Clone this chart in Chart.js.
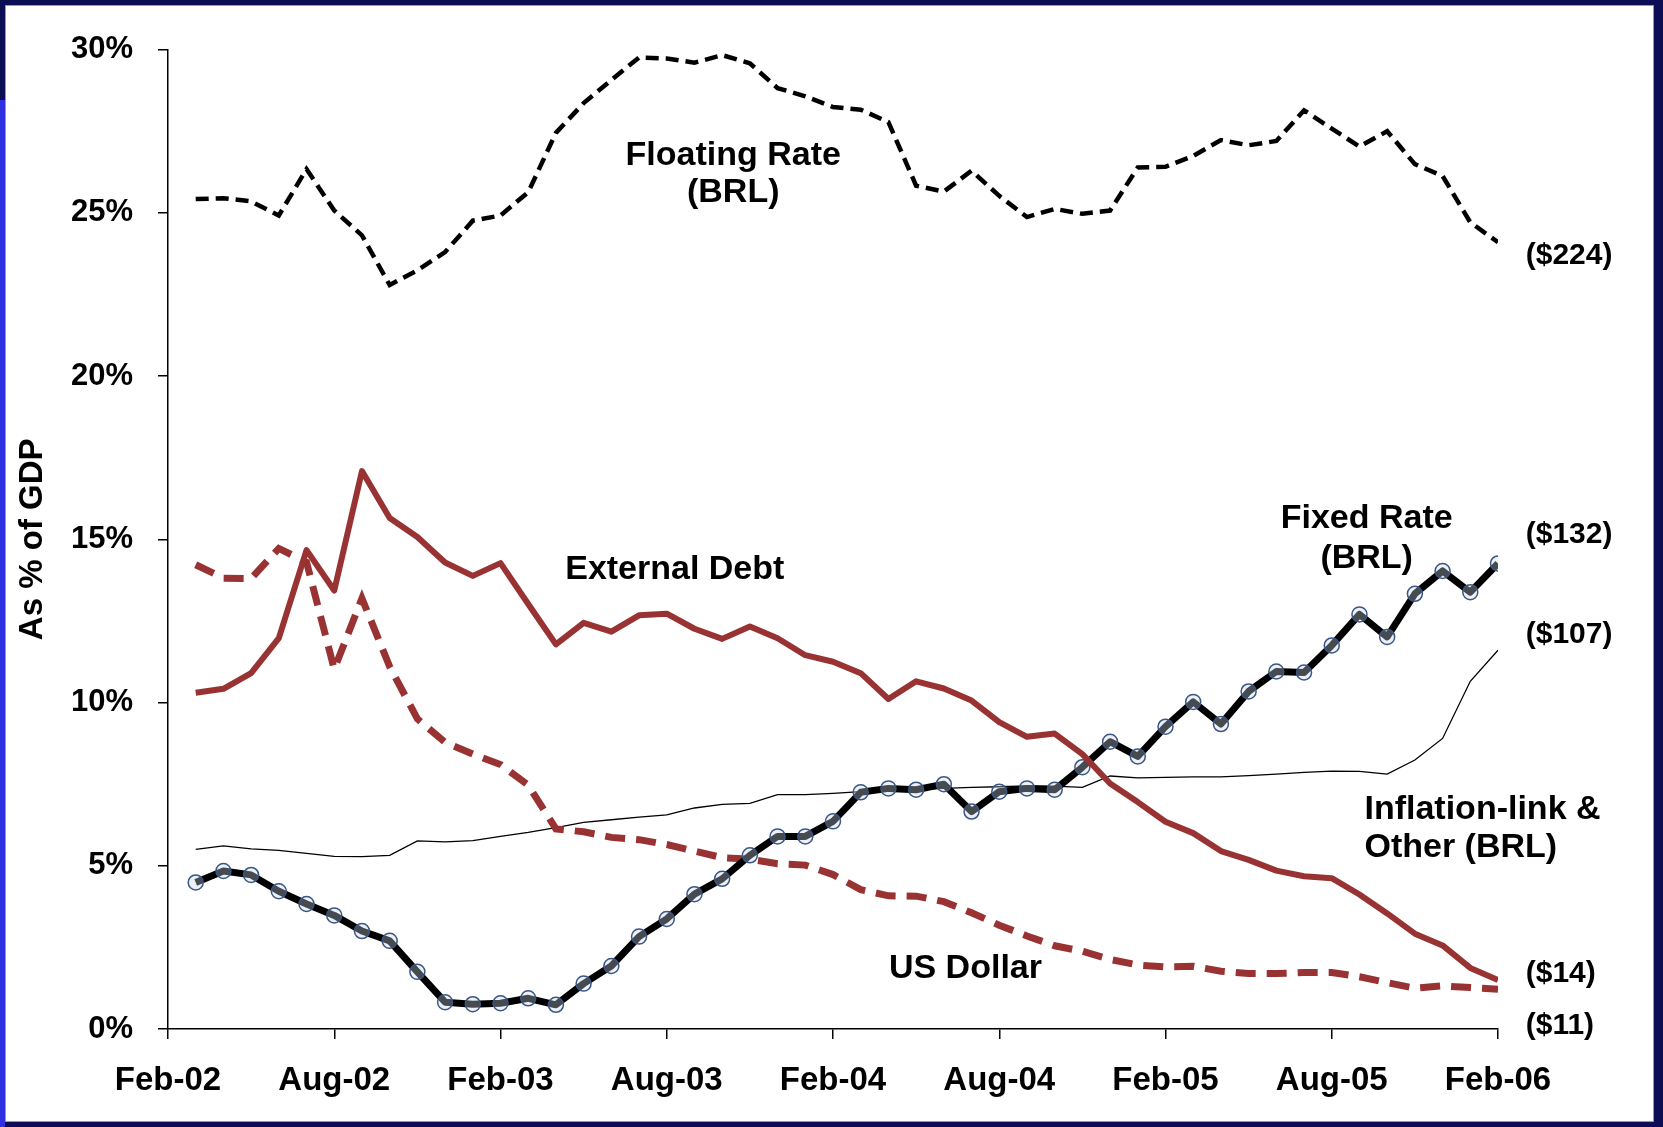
<!DOCTYPE html>
<html>
<head>
<meta charset="utf-8">
<script src="https://cdn.jsdelivr.net/npm/chart.js@4"></script>
<style>
  html, body { margin: 0; padding: 0; }
  body { width: 1663px; height: 1127px; background: #0d0d55; position: relative; overflow: hidden; }
  #franja { position: absolute; left: 0; top: 100px; width: 5px; height: 1027px; background: #3030e0; }
  #panel { position: absolute; left: 6px; top: 6px; width: 1647px; height: 1115px; background: #fff; outline: 1px solid #9a9a9a; }
</style>
</head>
<body>
<div id="franja"></div>
<div id="panel"><canvas id="myChart"></canvas></div>
<script>
// meses (Mar-02 .. Feb-06), x = meses desde Feb-02
const meses = [
  'Mar-02','Apr-02','May-02','Jun-02','Jul-02','Aug-02','Sep-02','Oct-02','Nov-02','Dec-02','Jan-03','Feb-03',
  'Mar-03','Apr-03','May-03','Jun-03','Jul-03','Aug-03','Sep-03','Oct-03','Nov-03','Dec-03','Jan-04','Feb-04',
  'Mar-04','Apr-04','May-04','Jun-04','Jul-04','Aug-04','Sep-04','Oct-04','Nov-04','Dec-04','Jan-05','Feb-05',
  'Mar-05','Apr-05','May-05','Jun-05','Jul-05','Aug-05','Sep-05','Oct-05','Nov-05','Dec-05','Jan-06','Feb-06'
]
const tickLabels = ['Feb-02','Aug-02','Feb-03','Aug-03','Feb-04','Aug-04','Feb-05','Aug-05','Feb-06']

// % of GDP
const floatingRate = [25.42, 25.45, 25.35, 24.92, 26.34, 25.07, 24.31, 22.79, 23.24, 23.8, 24.76, 24.92,
  25.63, 27.45, 28.36, 29.07, 29.76, 29.73, 29.6, 29.83, 29.58, 28.82, 28.57, 28.24,
  28.16, 27.78, 25.83, 25.65, 26.29, 25.52, 24.87, 25.12, 24.97, 25.07, 26.39, 26.41,
  26.74, 27.23, 27.07, 27.2, 28.14, 27.58, 27.03, 27.5, 26.49, 26.13, 24.71, 24.1]
const externalDebt = [10.3, 10.42, 10.9, 11.97, 14.67, 13.43, 17.09, 15.65, 15.07, 14.29, 13.88, 14.27,
  13.02, 11.78, 12.44, 12.17, 12.67, 12.72, 12.26, 11.95, 12.33, 11.97, 11.45, 11.25,
  10.9, 10.11, 10.65, 10.43, 10.06, 9.4, 8.95, 9.05, 8.42, 7.52, 6.95, 6.35,
  6.0, 5.45, 5.18, 4.85, 4.68, 4.62, 4.12, 3.54, 2.92, 2.56, 1.87, 1.5]
const usDollar = [14.22, 13.81, 13.8, 14.72, 14.3, 11.02, 13.19, 11.1, 9.5, 8.78, 8.42, 8.1,
  7.47, 6.13, 6.04, 5.87, 5.8, 5.65, 5.45, 5.25, 5.2, 5.06, 5.02, 4.73,
  4.27, 4.08, 4.07, 3.9, 3.56, 3.18, 2.85, 2.55, 2.38, 2.13, 1.96, 1.9,
  1.92, 1.77, 1.7, 1.7, 1.73, 1.73, 1.6, 1.42, 1.25, 1.32, 1.27, 1.22]
const fixedRate = [4.49, 4.84, 4.72, 4.22, 3.83, 3.48, 3.0, 2.7, 1.75, 0.82, 0.76, 0.79,
  0.94, 0.74, 1.39, 1.93, 2.83, 3.37, 4.13, 4.6, 5.32, 5.9, 5.9, 6.36,
  7.25, 7.37, 7.33, 7.5, 6.66, 7.27, 7.37, 7.33, 8.02, 8.8, 8.35, 9.26,
  10.02, 9.34, 10.34, 10.95, 10.92, 11.75, 12.7, 12.01, 13.33, 14.03, 13.38, 14.26]
const inflationOther = [5.5, 5.61, 5.52, 5.47, 5.38, 5.29, 5.28, 5.32, 5.76, 5.73, 5.77, 5.9,
  6.02, 6.17, 6.33, 6.41, 6.49, 6.56, 6.77, 6.88, 6.91, 7.18, 7.18, 7.22,
  7.27, 7.32, 7.34, 7.37, 7.4, 7.42, 7.45, 7.44, 7.4, 7.75, 7.69, 7.71,
  7.72, 7.72, 7.76, 7.81, 7.86, 7.9, 7.89, 7.81, 8.24, 8.9, 10.65, 11.6]

// etiquetas sobre el gráfico (m = mes, v = %)
const notas = [
  { text: 'Floating Rate', m: 20.4, v: 26.75, align: 'center', size: 34 },
  { text: '(BRL)', m: 20.4, v: 25.62, align: 'center', size: 34 },
  { text: 'External Debt', m: 18.29, v: 14.06, align: 'center', size: 34 },
  { text: 'Fixed Rate', m: 43.26, v: 15.64, align: 'center', size: 34 },
  { text: '(BRL)', m: 43.26, v: 14.42, align: 'center', size: 34 },
  { text: 'Inflation-link &', m: 43.18, v: 6.71, align: 'left', size: 34 },
  { text: 'Other (BRL)', m: 43.18, v: 5.55, align: 'left', size: 34 },
  { text: 'US Dollar', m: 28.78, v: 1.85, align: 'center', size: 34 },
  { text: '($224)', m: 49, v: 23.7, align: 'left', size: 30 },
  { text: '($132)', m: 49, v: 15.13, align: 'left', size: 30 },
  { text: '($107)', m: 49, v: 12.09, align: 'left', size: 30 },
  { text: '($14)', m: 49, v: 1.7, align: 'left', size: 30 },
  { text: '($11)', m: 49, v: 0.1, align: 'left', size: 30 }
]

const FONT = '"Liberation Sans", Arial, sans-serif'
const rojo = '#993333'

function serie(valores) {
  return valores.map((v, i) => ({ x: i + 1, y: v }))
}

const notasPlugin = {
  id: 'notas',
  afterDatasetsDraw(chart) {
    const { ctx, scales: { x, y } } = chart
    ctx.save()
    ctx.fillStyle = '#000'
    ctx.textBaseline = 'middle'
    notas.forEach(n => {
      ctx.font = `bold ${n.size}px ${FONT}`
      ctx.textAlign = n.align
      ctx.fillText(n.text, x.getPixelForValue(n.m), y.getPixelForValue(n.v))
    })
    ctx.restore()
  }
}

const ctx = document.getElementById('myChart')

new Chart(ctx, {
  type: 'line',
  data: {
    datasets: [
      {
        label: 'External Debt', data: serie(externalDebt),
        borderColor: rojo, borderWidth: 6, pointRadius: 0, borderJoinStyle: 'round'
      },
      {
        label: 'Fixed Rate (BRL)', data: serie(fixedRate),
        borderColor: '#000', borderWidth: 7, borderJoinStyle: 'round',
        pointRadius: 7.5, pointBorderWidth: 1.5,
        pointBorderColor: '#3a5685', pointBackgroundColor: 'rgba(200,215,235,0.35)'
      },
      {
        label: 'US Dollar', data: serie(usDollar),
        borderColor: rojo, borderWidth: 7, borderDash: [20, 11], pointRadius: 0
      },
      {
        label: 'Floating Rate (BRL)', data: serie(floatingRate),
        borderColor: '#000', borderWidth: 4.5, borderDash: [13, 7], pointRadius: 0
      },
      {
        label: 'Inflation-link & Other (BRL)', data: serie(inflationOther),
        borderColor: '#000', borderWidth: 1.3, pointRadius: 0
      }
    ]
  },
  options: {
    responsive: true,
    maintainAspectRatio: false,
    animation: false,
    layout: { padding: { left: 0, top: 37, right: 155, bottom: 0 } },
    plugins: { legend: { display: false }, tooltip: { enabled: false } },
    scales: {
      x: {
        type: 'linear', min: 0, max: 48,
        afterFit: s => { s.height = 92 },
        border: { color: '#000', width: 1.5 },
        grid: { drawOnChartArea: false, color: '#000', lineWidth: 1.5, tickLength: 10 },
        ticks: {
          stepSize: 6, padding: 22, color: '#000',
          font: { family: FONT, size: 33, weight: 'bold' },
          callback: v => tickLabels[v / 6]
        }
      },
      y: {
        min: 0, max: 30,
        afterFit: s => { s.width = 162 },
        border: { color: '#000', width: 1.5 },
        grid: { drawOnChartArea: false, color: '#000', lineWidth: 1.5, tickLength: 10 },
        ticks: {
          stepSize: 5, padding: 25, color: '#000',
          font: { family: FONT, size: 31, weight: 'bold' },
          callback: v => v + '%'
        },
        title: {
          display: true, text: 'As % of GDP', color: '#000',
          padding: { top: 7, bottom: 0 },
          font: { family: FONT, size: 33, weight: 'bold' }
        }
      }
    }
  },
  plugins: [notasPlugin]
})
</script>
</body>
</html>
